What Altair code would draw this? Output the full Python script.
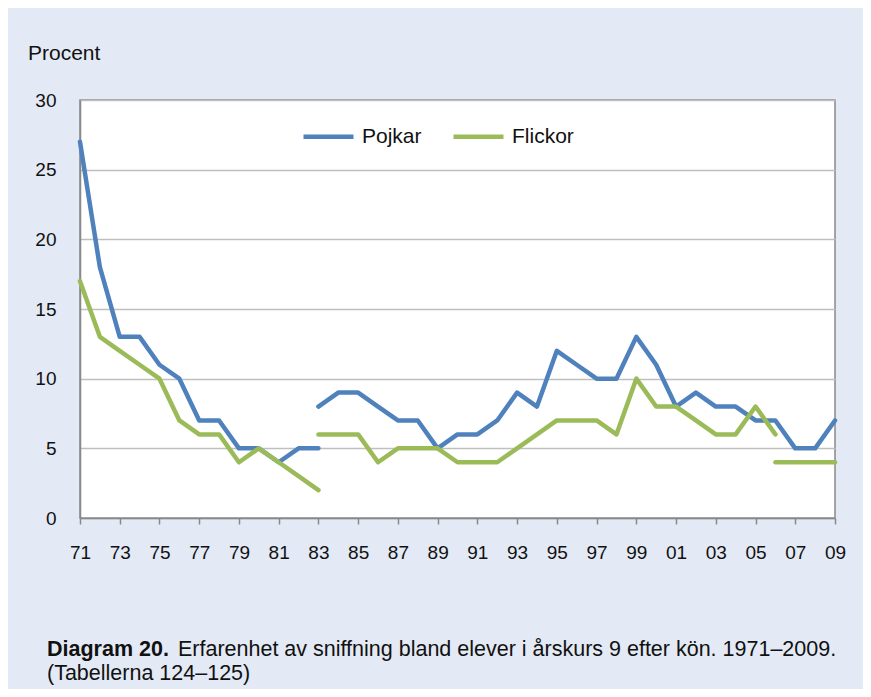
import altair as alt
import pandas as pd

# ---- data ----
pojkar_a_years = [1971, 1972, 1973, 1974, 1975, 1976, 1977, 1978, 1979, 1980, 1981, 1982, 1983]
pojkar_a_vals = [27, 18, 13, 13, 11, 10, 7, 7, 5, 5, 4, 5, 5]
pojkar_b_years = [1983, 1984, 1985, 1986, 1987, 1988, 1989, 1990, 1991, 1992, 1993, 1994, 1995,
                  1996, 1997, 1998, 1999, 2000, 2001, 2002, 2003, 2004, 2005, 2006, 2007, 2008, 2009]
pojkar_b_vals = [8, 9, 9, 8, 7, 7, 5, 6, 6, 7, 9, 8, 12,
                 11, 10, 10, 13, 11, 8, 9, 8, 8, 7, 7, 5, 5, 7]

flickor_a_years = [1971, 1972, 1973, 1974, 1975, 1976, 1977, 1978, 1979, 1980, 1981, 1982, 1983]
flickor_a_vals = [17, 13, 12, 11, 10, 7, 6, 6, 4, 5, 4, 3, 2]
flickor_b_years = [1983, 1984, 1985, 1986, 1987, 1988, 1989, 1990, 1991, 1992, 1993, 1994, 1995,
                   1996, 1997, 1998, 1999, 2000, 2001, 2002, 2003, 2004, 2005, 2006]
flickor_b_vals = [6, 6, 6, 4, 5, 5, 5, 4, 4, 4, 5, 6, 7,
                  7, 7, 6, 10, 8, 8, 7, 6, 6, 8, 6]
flickor_c_years = [2006, 2007, 2008, 2009]
flickor_c_vals = [4, 4, 4, 4]

x_ticks = [1971, 1973, 1975, 1977, 1979, 1981, 1983, 1985, 1987, 1989, 1991, 1993, 1995,
           1997, 1999, 2001, 2003, 2005, 2007, 2009]
y_ticks = [0, 5, 10, 15, 20, 25, 30]

series_names = ["Pojkar", "Flickor"]
series_colors = ["#4F81BD", "#9BBB59"]

y_title = "Procent"
caption_bold = "Diagram 20."
caption_rest = "Erfarenhet av sniffning bland elever i årskurs 9 efter kön. 1971–2009."
caption_line2 = "(Tabellerna 124–125)"

rows = []
for name, seg, ys, vs in [
    ("Pojkar", "Pa", pojkar_a_years, pojkar_a_vals),
    ("Pojkar", "Pb", pojkar_b_years, pojkar_b_vals),
    ("Flickor", "Fa", flickor_a_years, flickor_a_vals),
    ("Flickor", "Fb", flickor_b_years, flickor_b_vals),
    ("Flickor", "Fc", flickor_c_years, flickor_c_vals),
]:
    for y, v in zip(ys, vs):
        rows.append({"serie": name, "seg": seg, "year": y, "value": v})
df = pd.DataFrame(rows)

FONT = "Liberation Sans"
W, H = 755, 418

lines = alt.Chart(df).mark_line(strokeWidth=4.5, strokeCap="round", strokeJoin="round").encode(
    x=alt.X("year:Q",
            scale=alt.Scale(domain=[1971, 2009], nice=False, zero=False),
            axis=alt.Axis(values=x_ticks, title=None, grid=False,
                          labelExpr="substring(toString(datum.value), 2, 4)",
                          tickSize=6, tickColor="#898989", tickWidth=1.5,
                          domainColor="#898989", domainWidth=1.5,
                          labelPadding=19, labelFontSize=19, labelFont=FONT,
                          labelColor="#111111", labelFlush=False)),
    y=alt.Y("value:Q",
            scale=alt.Scale(domain=[0, 30], nice=False),
            axis=alt.Axis(values=y_ticks, title=None, grid=True, gridColor="#BFBFBF",
                          gridWidth=1.5, ticks=False,
                          domainColor="#898989", domainWidth=1.5,
                          labelPadding=24, labelFontSize=19, labelFont=FONT,
                          labelColor="#111111")),
    color=alt.Color("serie:N",
                    scale=alt.Scale(domain=series_names, range=series_colors),
                    legend=alt.Legend(title=None, orient="none", direction="horizontal",
                                      legendX=221, legendY=9,
                                      symbolType="stroke", symbolSize=2500,
                                      symbolStrokeWidth=4.5, labelFontSize=21,
                                      labelFont=FONT, labelColor="#111111",
                                      labelOffset=6, columnPadding=22)),
    detail="seg:N",
    order="year:Q",
)

texts = pd.DataFrame({
    "t": [y_title, caption_bold, caption_rest, caption_line2],
    "kind": ["yt", "cb", "cr", "c2"],
})

def text_layer(kind, x, y, size, bold=False):
    return alt.Chart(texts).transform_filter(alt.datum.kind == kind).mark_text(
        align="left", baseline="middle", font=FONT, fontSize=size,
        fontWeight="bold" if bold else "normal", color="#111111"
    ).encode(text="t:N", x=alt.value(x), y=alt.value(y))

chart = alt.layer(
    lines,
    text_layer("yt", -52, -46, 21),
    text_layer("cb", -33, 550, 21.5, bold=True),
    text_layer("cr", 98, 550, 21.5),
    text_layer("c2", -33, 574, 21.5),
).properties(
    width=W, height=H,
    background="#E4EAF5",
    padding={"left": 72, "top": 92, "right": 28, "bottom": 171},
    autosize=alt.AutoSizeParams(type="none"),
).configure_view(fill="white", stroke="#898989", strokeWidth=1.5)

chart.save("out.html", embed_options={"renderer": "svg", "actions": False})
